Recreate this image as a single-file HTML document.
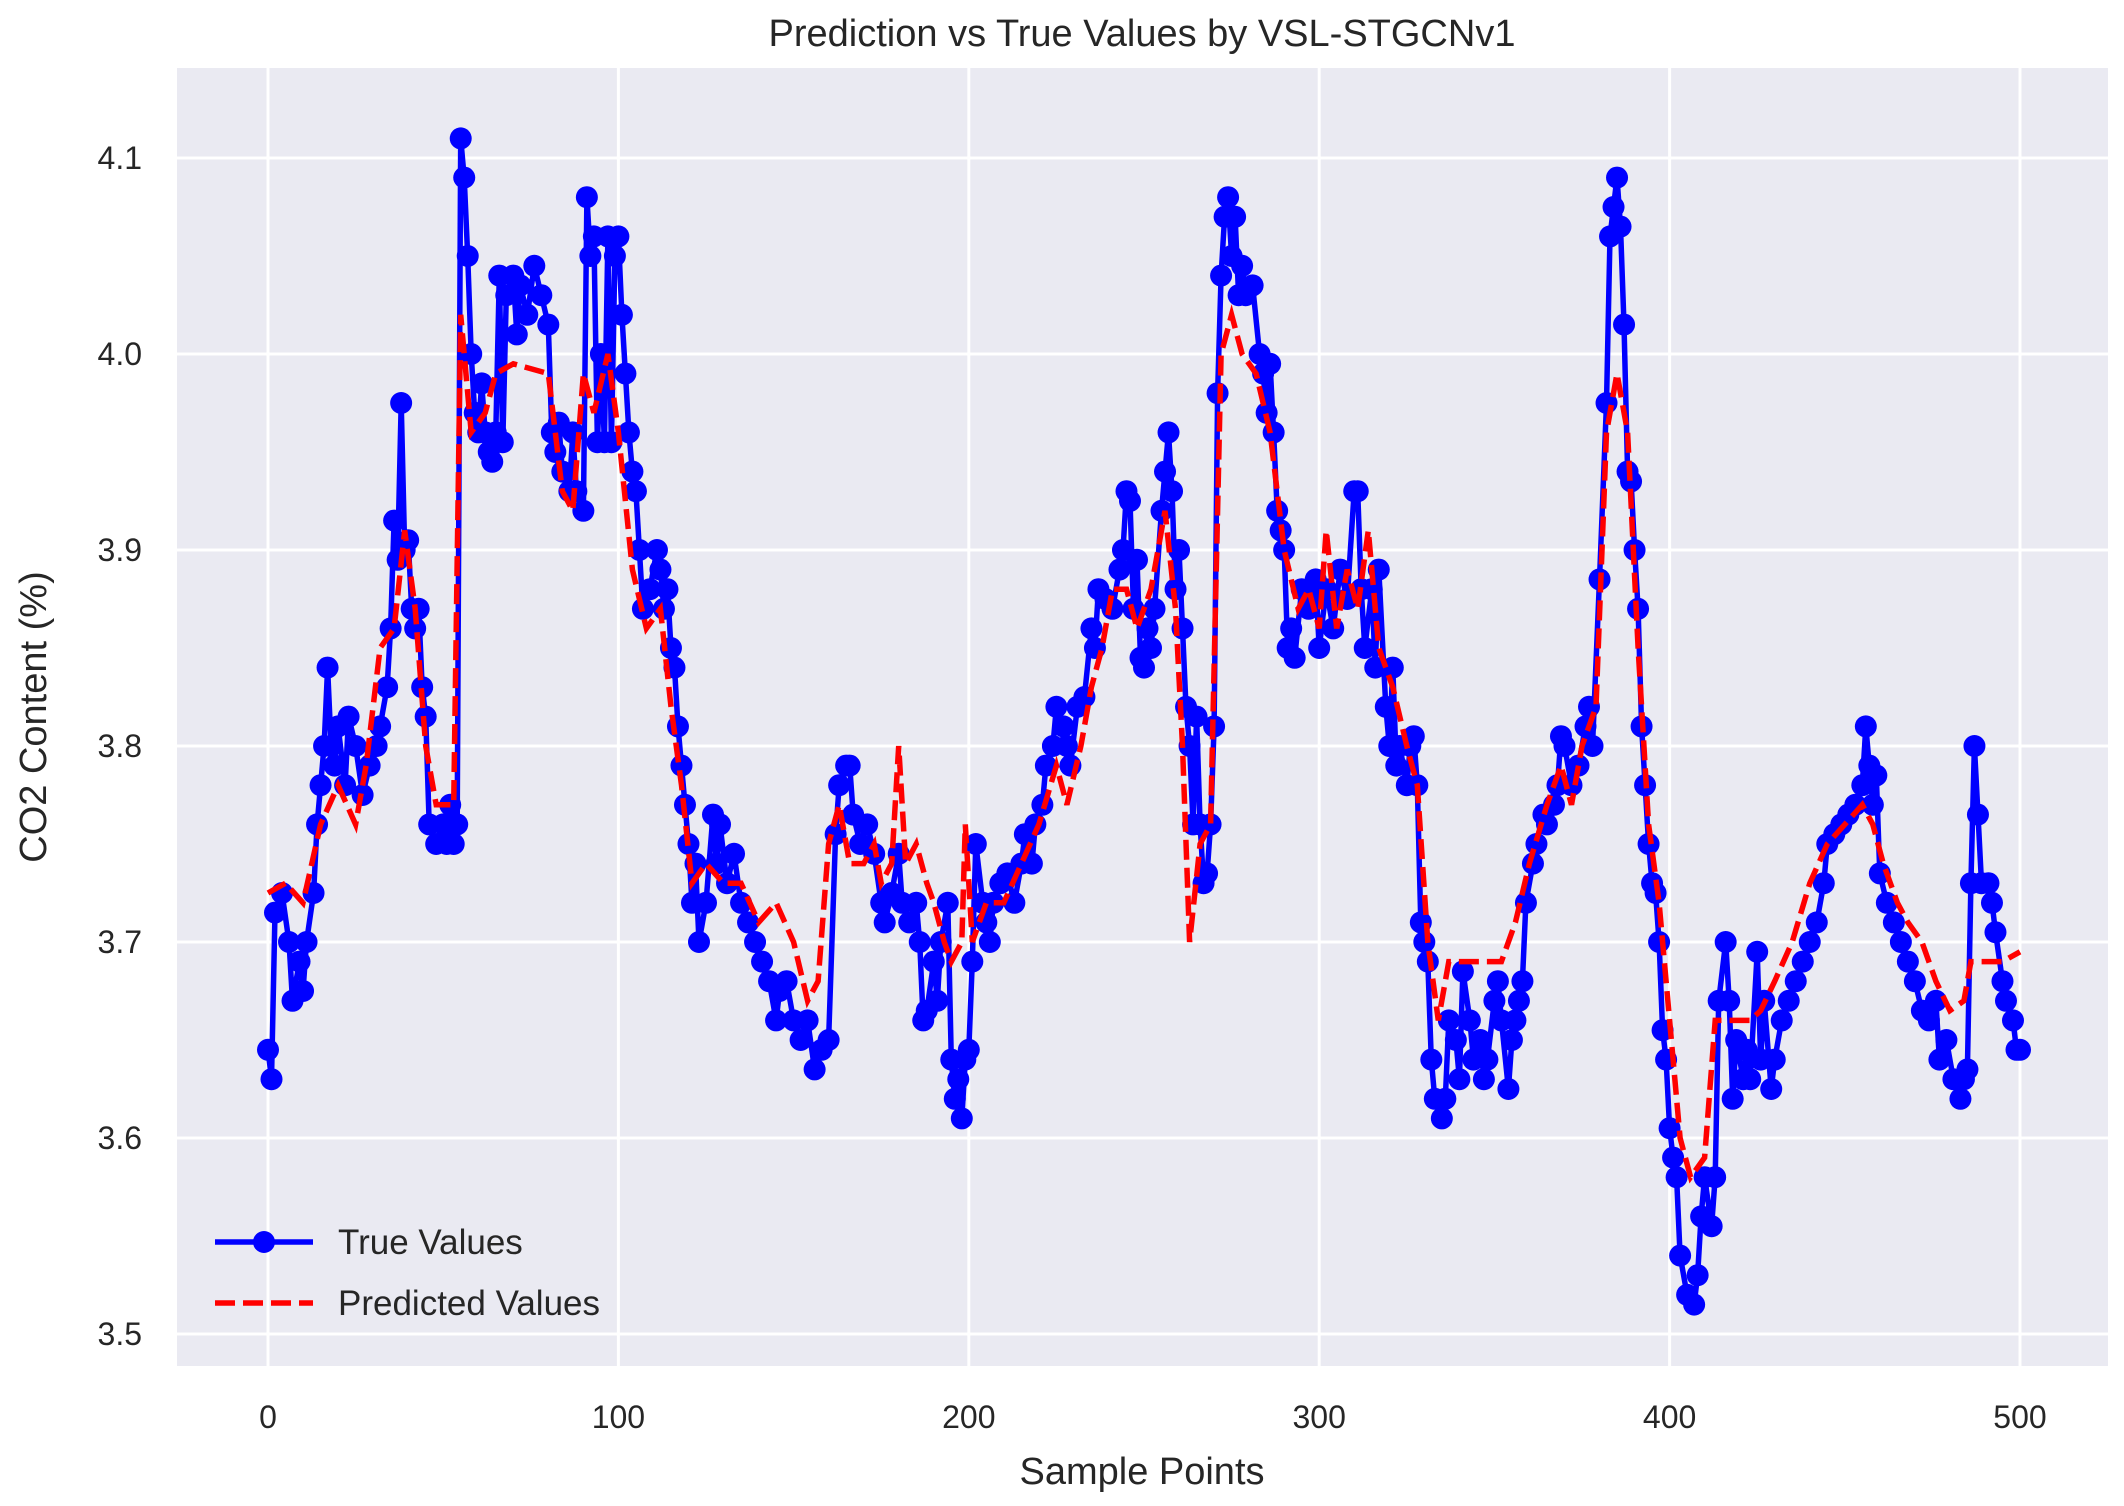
<!DOCTYPE html>
<html><head><meta charset="utf-8">
<style>
html,body{margin:0;padding:0;background:#fff;}
svg{display:block;font-family:"Liberation Sans","DejaVu Sans",sans-serif;}
</style></head>
<body>
<svg id="chart" width="2124" height="1506" viewBox="0 0 2124 1506" xmlns="http://www.w3.org/2000/svg">
<rect x="0" y="0" width="2124" height="1506" fill="#ffffff"/>
<rect x="177" y="68" width="1931" height="1298" fill="#eaeaf2"/>
<g id="grid"></g>
<g id="series"></g>
<g id="ticks"></g>
<text x="1142" y="46" text-anchor="middle" font-size="38" fill="#262626">Prediction vs True Values by VSL-STGCNv1</text>
<text x="1142" y="1484" text-anchor="middle" font-size="38" fill="#262626">Sample Points</text>
<text x="0" y="0" transform="translate(46,717) rotate(-90)" text-anchor="middle" font-size="38" fill="#262626">CO2 Content (%)</text>
<g>
  <line x1="215" y1="1242" x2="313" y2="1242" stroke="#0000ff" stroke-width="5.5"/>
  <circle cx="264" cy="1242" r="11" fill="#0000ff"/>
  <text x="338" y="1254" font-size="35" fill="#262626">True Values</text>
  <line x1="215" y1="1303" x2="313" y2="1303" stroke="#ff0000" stroke-width="5.5" stroke-dasharray="20,8"/>
  <text x="338" y="1315" font-size="35" fill="#262626">Predicted Values</text>
</g>
</svg>
<script>
const xTicks = [0,100,200,300,400,500];
const yTicks = [3.5,3.6,3.7,3.8,3.9,4.0,4.1];
const yTickLabels = ["3.5","3.6","3.7","3.8","3.9","4.0","4.1"];
const trueX = [0,1,2,4,6,7,9,10,11,13,14,15,16,17,18,19,20,22,23,25,27,29,31,32,34,35,36,37,38,39,40,41,42,43,44,45,46,48,50,51,52,53,54,55,56,57,58,59,60,61,62,63,64,65,66,67,68,70,71,72,74,76,78,80,81,82,83,84,86,87,88,90,91,92,93,94,95,96,97,98,99,100,101,102,103,104,105,106,107,109,111,112,113,114,115,116,117,118,119,120,121,122,123,125,127,128,129,131,133,135,137,139,141,143,145,146,148,150,152,154,156,158,160,162,163,165,166,167,169,171,173,175,176,178,180,181,183,185,186,187,188,190,191,192,194,195,196,197,198,199,200,201,202,204,205,206,207,209,211,213,215,216,218,219,221,222,224,225,227,228,229,231,233,235,236,237,239,241,243,244,245,246,247,248,249,250,251,252,253,255,256,257,258,259,260,261,262,263,264,265,266,267,268,269,270,271,272,273,274,275,276,277,278,279,281,283,284,285,286,287,288,289,290,291,292,293,295,297,299,300,302,304,306,308,310,311,312,313,315,316,317,319,320,321,322,323,325,326,327,328,329,330,331,332,333,335,336,337,339,340,341,343,344,346,347,348,350,351,352,354,355,356,357,358,359,361,362,364,365,367,368,369,370,372,374,376,377,378,380,382,383,384,385,386,387,388,389,390,391,392,393,394,395,396,397,398,399,400,401,402,403,405,407,408,409,410,412,413,414,416,417,418,419,421,422,423,425,426,427,429,430,432,434,436,438,440,442,444,445,447,449,451,453,455,456,457,458,459,460,462,464,466,468,470,472,474,476,477,479,481,483,484,485,486,487,488,489,491,492,493,495,496,498,499,500];
const trueY = [3.645,3.63,3.715,3.725,3.70,3.67,3.69,3.675,3.70,3.725,3.76,3.78,3.80,3.84,3.80,3.79,3.81,3.78,3.815,3.80,3.775,3.79,3.80,3.81,3.83,3.86,3.915,3.895,3.975,3.90,3.905,3.87,3.86,3.87,3.83,3.815,3.76,3.75,3.76,3.75,3.77,3.75,3.76,4.11,4.09,4.05,4.00,3.97,3.96,3.985,3.96,3.95,3.945,3.96,4.04,3.955,4.03,4.04,4.01,4.035,4.02,4.045,4.03,4.015,3.96,3.95,3.965,3.94,3.93,3.96,3.93,3.92,4.08,4.05,4.06,3.955,4.00,3.955,4.06,3.955,4.05,4.06,4.02,3.99,3.96,3.94,3.93,3.90,3.87,3.88,3.90,3.89,3.87,3.88,3.85,3.84,3.81,3.79,3.77,3.75,3.72,3.74,3.70,3.72,3.765,3.74,3.76,3.73,3.745,3.72,3.71,3.70,3.69,3.68,3.66,3.675,3.68,3.66,3.65,3.66,3.635,3.645,3.65,3.755,3.78,3.79,3.79,3.765,3.75,3.76,3.745,3.72,3.71,3.725,3.745,3.72,3.71,3.72,3.70,3.66,3.665,3.69,3.67,3.70,3.72,3.64,3.62,3.63,3.61,3.64,3.645,3.69,3.75,3.72,3.71,3.70,3.72,3.73,3.735,3.72,3.74,3.755,3.74,3.76,3.77,3.79,3.80,3.82,3.81,3.80,3.79,3.82,3.825,3.86,3.85,3.88,3.875,3.87,3.89,3.90,3.93,3.925,3.87,3.895,3.845,3.84,3.86,3.85,3.87,3.92,3.94,3.96,3.93,3.88,3.90,3.86,3.82,3.80,3.76,3.815,3.76,3.73,3.735,3.76,3.81,3.98,4.04,4.07,4.08,4.05,4.07,4.03,4.045,4.03,4.035,4.00,3.99,3.97,3.995,3.96,3.92,3.91,3.90,3.85,3.86,3.845,3.88,3.87,3.885,3.85,3.88,3.86,3.89,3.875,3.93,3.93,3.88,3.85,3.88,3.84,3.89,3.82,3.80,3.84,3.79,3.80,3.78,3.80,3.805,3.78,3.71,3.70,3.69,3.64,3.62,3.61,3.62,3.66,3.65,3.63,3.685,3.66,3.64,3.65,3.63,3.64,3.67,3.68,3.66,3.625,3.65,3.66,3.67,3.68,3.72,3.74,3.75,3.765,3.76,3.77,3.78,3.805,3.80,3.78,3.79,3.81,3.82,3.80,3.885,3.975,4.06,4.075,4.09,4.065,4.015,3.94,3.935,3.90,3.87,3.81,3.78,3.75,3.73,3.725,3.70,3.655,3.64,3.605,3.59,3.58,3.54,3.52,3.515,3.53,3.56,3.58,3.555,3.58,3.67,3.70,3.67,3.62,3.65,3.63,3.645,3.63,3.695,3.64,3.67,3.625,3.64,3.66,3.67,3.68,3.69,3.70,3.71,3.73,3.75,3.755,3.76,3.765,3.77,3.78,3.81,3.79,3.77,3.785,3.735,3.72,3.71,3.70,3.69,3.68,3.665,3.66,3.67,3.64,3.65,3.63,3.62,3.63,3.635,3.73,3.80,3.765,3.73,3.73,3.72,3.705,3.68,3.67,3.66,3.645,3.645];
const predX = [0,5,10,15,20,25,28,32,36,39,42,45,48,53,55,58,62,65,70,80,84,87,90,93,97,100,104,108,112,115,118,121,125,130,135,140,145,150,154,157,160,163,166,170,173,175,178,180,182,185,188,190,193,195,198,199,201,205,210,215,220,225,228,232,235,238,241,245,248,252,256,259,261,263,266,269,272,275,278,282,286,290,294,297,300,302,305,308,311,314,317,321,325,328,331,334,337,342,347,352,356,360,365,369,372,375,379,382,385,388,391,394,397,400,403,406,410,413,417,423,426,430,435,440,445,450,455,458,461,465,468,472,476,480,484,486,490,495,500];
const predY = [3.725,3.73,3.72,3.76,3.78,3.76,3.79,3.85,3.86,3.91,3.87,3.80,3.77,3.77,4.02,3.96,3.97,3.99,3.995,3.99,3.93,3.92,3.99,3.97,4.00,3.96,3.89,3.86,3.87,3.82,3.78,3.73,3.74,3.73,3.73,3.71,3.72,3.70,3.67,3.68,3.75,3.77,3.74,3.74,3.75,3.73,3.74,3.80,3.74,3.75,3.73,3.72,3.70,3.69,3.70,3.76,3.70,3.72,3.72,3.74,3.76,3.79,3.77,3.80,3.83,3.85,3.88,3.88,3.86,3.88,3.92,3.87,3.80,3.70,3.75,3.76,4.00,4.02,4.00,3.99,3.96,3.90,3.87,3.88,3.86,3.91,3.86,3.89,3.87,3.91,3.85,3.83,3.80,3.78,3.70,3.66,3.69,3.69,3.69,3.69,3.71,3.74,3.77,3.79,3.77,3.80,3.82,3.96,3.99,3.96,3.85,3.76,3.72,3.66,3.60,3.58,3.59,3.66,3.66,3.66,3.665,3.68,3.70,3.73,3.75,3.76,3.77,3.76,3.74,3.72,3.71,3.70,3.68,3.665,3.67,3.69,3.69,3.69,3.695];

const L=177,R=2108,T=68,B=1366;
function xs(v){return 268 + (v-0)*(2020-268)/500;}
function ys(v){return 158 + (4.1-v)*(1334-158)/0.6;}
const NS="http://www.w3.org/2000/svg";
function mk(tag,attrs,parent){const e=document.createElementNS(NS,tag);for(const k in attrs)e.setAttribute(k,attrs[k]);parent.appendChild(e);return e;}
const grid=document.getElementById('grid'), ticks=document.getElementById('ticks'), series=document.getElementById('series');
xTicks.forEach(t=>{
  const g=mk('line',{x1:xs(t),x2:xs(t),y1:T,y2:B,stroke:'#ffffff','stroke-width':3},grid);
  
  
  const l=mk('text',{x:xs(t),y:1428,'text-anchor':'middle','font-size':32,fill:'#262626'},ticks);
  
  
  l.textContent=String(t);
});
yTicks.forEach((t,i)=>{
  const g=mk('line',{x1:L,x2:R,y1:ys(t),y2:ys(t),stroke:'#ffffff','stroke-width':3},grid);
  
  
  const l=mk('text',{x:142,y:ys(t)+11,'text-anchor':'end','font-size':32,fill:'#262626'},ticks);
  
  
  l.textContent=yTickLabels[i];
});
let d='';trueX.forEach((x,i)=>{d+=(i?'L':'M')+xs(x).toFixed(1)+','+ys(trueY[i]).toFixed(1);});
const tl=mk('path',{d:d,fill:'none',stroke:'#0000ff','stroke-width':5.5,'stroke-linejoin':'round'},series);


trueX.forEach((x,i)=>{
  const c=mk('circle',{cx:xs(x),cy:ys(trueY[i]),r:11,fill:'#0000ff'},series);
  
  
});
let d2='';predX.forEach((x,i)=>{d2+=(i?'L':'M')+xs(x).toFixed(1)+','+ys(predY[i]).toFixed(1);});
const pl=mk('path',{d:d2,fill:'none',stroke:'#ff0000','stroke-width':5.5,'stroke-dasharray':'20,8'},series);


</script>
</body></html>
